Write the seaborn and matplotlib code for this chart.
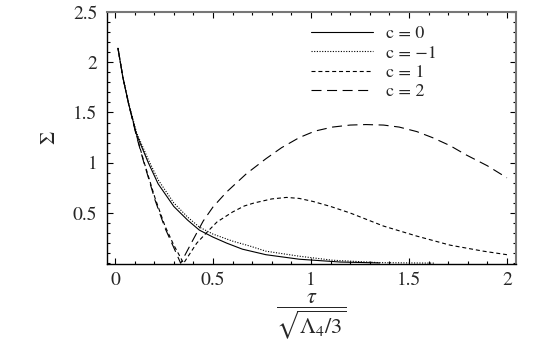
import numpy as np
import pandas as pd
import matplotlib
matplotlib.use("Agg")
import matplotlib.pyplot as plt
import seaborn as sns
from matplotlib.ticker import MultipleLocator

# ---- data ----
labels = ["c = 0", "c = \u22121", "c = 1", "c = 2"]

tau_c0 = [0.015, 0.04, 0.07, 0.11, 0.17, 0.22, 0.30, 0.37, 0.43, 0.50, 0.57,
          0.65, 0.77, 0.94, 1.15, 1.35]
sig_c0 = [2.14, 1.85, 1.58, 1.28, 1.00, 0.79, 0.565, 0.43, 0.33, 0.26, 0.20,
          0.14, 0.085, 0.04, 0.012, 0.003]

tau_cm1 = [0.015, 0.04, 0.07, 0.11, 0.17, 0.22, 0.30, 0.37, 0.43, 0.50, 0.60,
           0.69, 0.77, 0.94, 1.11, 1.35, 1.63]
sig_cm1 = [2.14, 1.85, 1.59, 1.30, 1.03, 0.83, 0.60, 0.46, 0.36, 0.29, 0.22,
           0.17, 0.12, 0.07, 0.03, 0.006, 0.001]

tau_c1 = [0.015, 0.04, 0.07, 0.11, 0.146, 0.204, 0.255, 0.30, 0.35, 0.417,
          0.47, 0.52, 0.60, 0.66, 0.71, 0.80, 0.875, 0.94, 1.01, 1.10, 1.20,
          1.37, 1.54, 1.71, 1.88, 2.0]
sig_c1 = [2.14, 1.85, 1.58, 1.27, 1.02, 0.65, 0.37, 0.18, 0.0, 0.20,
          0.31, 0.41, 0.51, 0.57, 0.60, 0.64, 0.655, 0.645, 0.615, 0.565, 0.50,
          0.37, 0.27, 0.18, 0.12, 0.085]

tau_c2 = [0.015, 0.04, 0.07, 0.11, 0.146, 0.204, 0.255, 0.30, 0.335, 0.40,
          0.45, 0.50, 0.57, 0.67, 0.77, 0.85, 0.94, 1.02, 1.11, 1.20, 1.28,
          1.37, 1.45, 1.54, 1.62, 1.71, 1.79, 1.90, 2.0]
sig_c2 = [2.14, 1.85, 1.58, 1.26, 1.01, 0.63, 0.35, 0.155, 0.0, 0.24,
          0.42, 0.56, 0.71, 0.89, 1.04, 1.15, 1.25, 1.315, 1.355, 1.375, 1.38,
          1.375, 1.355, 1.31, 1.25, 1.17, 1.08, 0.97, 0.85]

xticks = [0, 0.5, 1, 1.5, 2]
yticks = [0.5, 1, 1.5, 2, 2.5]

frames = []
for lab, t, s in zip(labels, [tau_c0, tau_cm1, tau_c1, tau_c2],
                     [sig_c0, sig_cm1, sig_c1, sig_c2]):
    frames.append(pd.DataFrame({"tau": t, "sigma": s, "c": lab}))
df = pd.concat(frames, ignore_index=True)

sns.set_style("ticks")
plt.rcParams["font.family"] = ["STIXGeneral", "DejaVu Serif"]
plt.rcParams["mathtext.fontset"] = "stix"

fig = plt.figure(figsize=(5.59, 3.45), dpi=100)
ax = fig.add_axes([0.1914, 0.2348, 0.7316, 0.7304])

dashes = {labels[0]: "", labels[1]: (1.0, 1.4), labels[2]: (3.6, 2.6),
          labels[3]: (9.0, 5.0)}
sns.lineplot(data=df, x="tau", y="sigma", style="c", style_order=labels,
             dashes=dashes, color="black", lw=0.8, estimator=None,
             sort=False, ax=ax)

ax.set_xlim(-0.041, 2.046)
ax.set_ylim(-0.0075, 2.5)
ax.set_xticks(xticks)
ax.set_xticklabels(["0", "0.5", "1", "1.5", "2"])
ax.set_yticks(yticks)
ax.set_yticklabels(["0.5", "1", "1.5", "2", "2.5"])
ax.xaxis.set_minor_locator(MultipleLocator(0.1))
ax.yaxis.set_minor_locator(MultipleLocator(0.1))
ax.tick_params(which="both", direction="in", top=True, right=True,
               labelsize=14, color="black", width=0.8)
ax.tick_params(which="major", length=4.3)
ax.tick_params(which="minor", length=2.2)
ax.tick_params(axis="y", which="major", pad=7)
ax.tick_params(axis="x", which="major", pad=6)

for side in ["left", "bottom"]:
    ax.spines[side].set_color("black")
    ax.spines[side].set_linewidth(1.0)
for side in ["top", "right"]:
    ax.spines[side].set_color("#777777")
    ax.spines[side].set_linewidth(1.5)

ax.set_ylabel("\u03a3", fontsize=15, labelpad=10)
ax.set_xlabel(r"$\dfrac{\tau}{\sqrt{\Lambda_4/3}}$", fontsize=16, labelpad=1)

handles, labs = ax.get_legend_handles_labels()
leg = ax.legend(handles, labs, loc="upper left",
                bbox_to_anchor=(0.48, 0.975), frameon=False, fontsize=13,
                handlelength=3.45, handletextpad=0.75, labelspacing=0.15,
                borderaxespad=0)

fig.savefig("out.png", dpi=100)
